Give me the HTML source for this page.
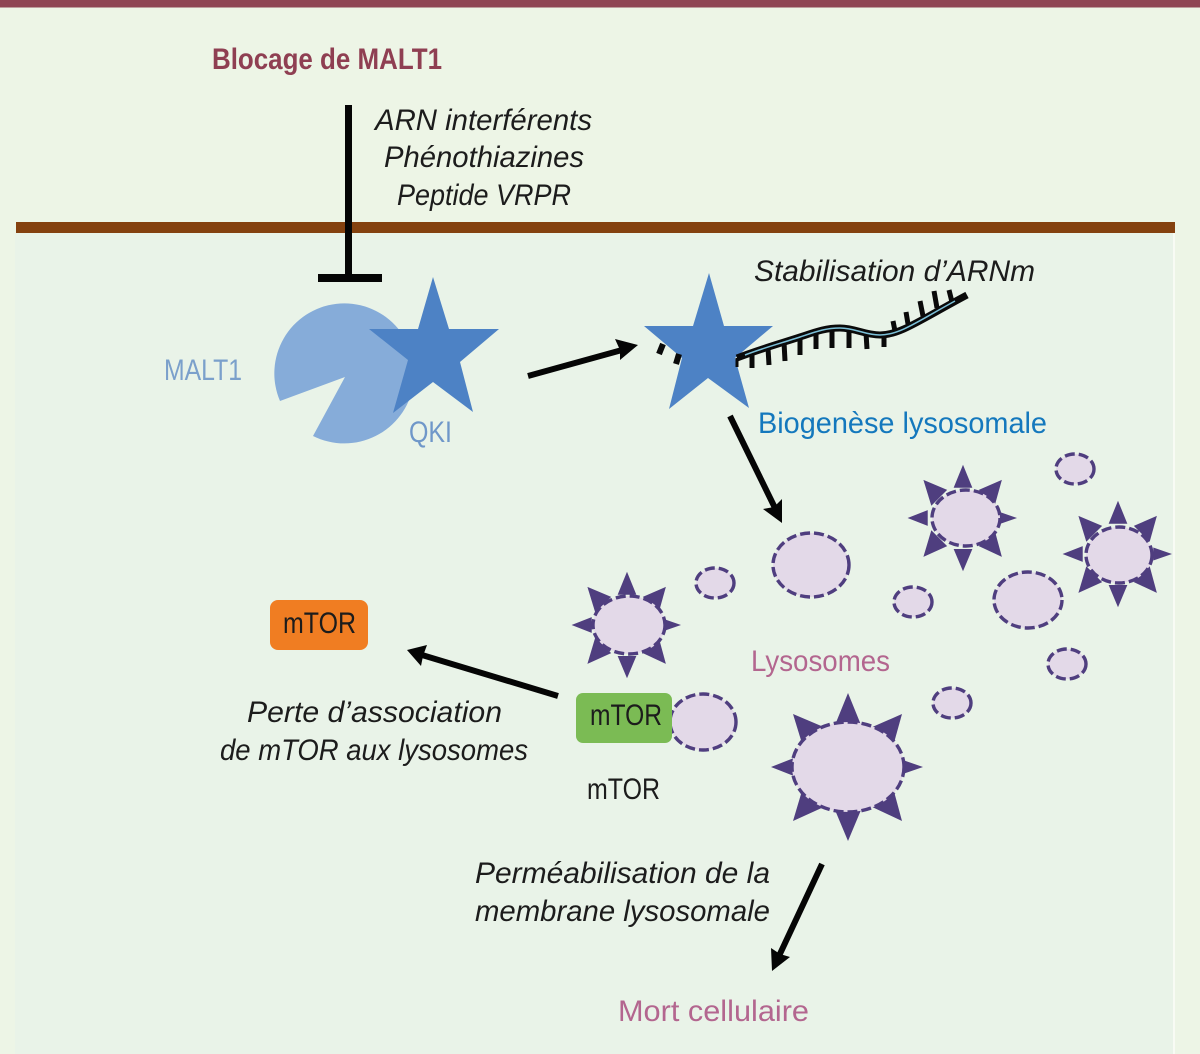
<!DOCTYPE html>
<html lang="fr">
<head>
<meta charset="utf-8">
<title>Blocage de MALT1</title>
<style>
html,body{margin:0;padding:0;background:#edf5e6;}
svg{display:block;}
text{font-family:"Liberation Sans",sans-serif;font-size:30px;fill:#1c1c1c;}
.i{font-style:italic;}
.s{fill:#4f3e7f;}
.d{fill:#e3d9e8;stroke:#4f3e7f;stroke-width:3.4;stroke-dasharray:10 4;}
.p{fill:#b3668f;}
</style>
</head>
<body>
<svg width="1200" height="1054" viewBox="0 0 1200 1054" xmlns="http://www.w3.org/2000/svg">
<defs>
<g id="spk">
<polygon class="s" points="0,-74 -13,-42 13,-42"/>
<polygon class="s" points="0,74 -13,43 13,43"/>
<polygon class="s" points="-77,0 -49,-11 -49,11"/>
<polygon class="s" points="75,0 49,-9 49,9"/>
<polygon class="s" points="-55,-53 -22,-39 -44,-17"/>
<polygon class="s" points="54,-53 22,-39 44,-17"/>
<polygon class="s" points="-55,54 -22,39 -44,17"/>
<polygon class="s" points="54,54 22,39 44,17"/>
</g>
</defs>

<rect width="1200" height="1054" fill="#edf5e6"/>
<rect x="15" y="233" width="1159" height="821" fill="#e9f3e8"/>
<rect x="1173" y="233" width="2" height="821" fill="#f8fbf4"/>
<rect x="0" y="0" width="1200" height="7.5" fill="#8f4554"/>
<rect x="16" y="222" width="1159" height="11" fill="#84410f"/>

<!-- inhibition -->
<rect x="345" y="105" width="7" height="173" fill="#050505"/>
<rect x="318" y="274" width="64" height="8" fill="#050505"/>

<!-- MALT1 + QKI -->
<path d="M345,377 L280,401 A70,70 0 1 1 313,436 Z" fill="#86acd9"/>
<polygon points="433,277 449,329 499,329 460,362 473,412 433,382 393,413 408,360 369,329 418,329" fill="#4d82c5"/>

<!-- star + RNA -->
<polygon points="709,273 724,326 773,326 735,358 749,408 708,378 669,409 682,358 644,326 693,326" fill="#4d82c5"/>
<g stroke="#0a0a0a" fill="none">
<path d="M663,344 L659,354 M679,354 L676,364" stroke-width="6"/>
<path d="M737,358 C760,349 785,342 800,337 C815,332 825,328 840,328 C855,328 865,335 880,335 C900,335 920,320 967,295" stroke-width="7"/>
<path d="M752,353V368 M768,348L769,365 M784,342L785,361 M800,337V355 M816,332V349 M832,329V348 M849,329V348 M866,333L867,349 M884,335V347 M895,331L893,321 M908,324L906,312 M923,316L920,301 M937,308L934,291 M952,302L949,290" stroke-width="5"/>
<path d="M737,358V367" stroke-width="3"/>
</g>
<path d="M745,355 C760,349 785,342 800,337 C815,332 825,328 840,328 C855,328 865,335 880,335 C900,335 920,320 955,301" stroke="#7cc0d8" stroke-width="1.5" fill="none"/>

<!-- arrows -->
<g fill="#050505" stroke="#050505">
<line x1="528" y1="376" x2="622" y2="350" stroke-width="6"/>
<polygon stroke="none" points="638,345 615,339 620,350 620,360"/>
<line x1="730" y1="416" x2="775" y2="508" stroke-width="6"/>
<polygon stroke="none" points="782,523 782,499 774,507 763,509"/>
<line x1="558" y1="696" x2="422" y2="655" stroke-width="6"/>
<polygon stroke="none" points="407,650 427,645 423,656 421,666"/>
<line x1="822" y1="864" x2="779" y2="956" stroke-width="6"/>
<polygon stroke="none" points="772,971 771,948 780,954 790,957"/>
</g>

<!-- lysosomes -->
<ellipse class="d" cx="811" cy="565" rx="38" ry="32"/>
<ellipse class="d" cx="715" cy="583" rx="19" ry="15"/>
<ellipse class="d" cx="913" cy="602" rx="19" ry="15"/>
<ellipse class="d" cx="1075" cy="469" rx="19" ry="15"/>
<ellipse class="d" cx="1028" cy="600" rx="34" ry="28"/>
<ellipse class="d" cx="1067" cy="664" rx="19" ry="15"/>
<ellipse class="d" cx="952" cy="703" rx="19" ry="15"/>
<ellipse class="d" cx="703" cy="722" rx="33" ry="28"/>

<use href="#spk" transform="translate(848,767)"/>
<ellipse class="d" cx="848" cy="767" rx="56" ry="45"/>
<use href="#spk" transform="translate(627,625) scale(.72)"/>
<ellipse class="d" cx="629" cy="625" rx="36" ry="29"/>
<use href="#spk" transform="translate(963,518) scale(.72)"/>
<ellipse class="d" cx="966" cy="518" rx="34" ry="28"/>
<use href="#spk" transform="translate(1118,554) scale(.72)"/>
<ellipse class="d" cx="1119" cy="555" rx="33" ry="28"/>

<!-- mTOR boxes -->
<rect x="270" y="600" width="98" height="50" rx="8" fill="#f07d22"/>
<rect x="576" y="693" width="96" height="50" rx="7" fill="#7bbb54"/>

<!-- text -->
<text x="212" y="69" font-weight="700" style="fill:#8f3f52" textLength="230" lengthAdjust="spacingAndGlyphs">Blocage de MALT1</text>
<text class="i" x="375" y="130" textLength="217" lengthAdjust="spacingAndGlyphs">ARN interférents</text>
<text class="i" x="384" y="167" textLength="200" lengthAdjust="spacingAndGlyphs">Phénothiazines</text>
<text class="i" x="397" y="205" textLength="174" lengthAdjust="spacingAndGlyphs">Peptide VRPR</text>
<text class="i" x="754" y="281" textLength="281" lengthAdjust="spacingAndGlyphs">Stabilisation d’ARNm</text>
<text x="164" y="380" style="fill:#7ba0cb" textLength="78" lengthAdjust="spacingAndGlyphs">MALT1</text>
<text x="409" y="442" style="fill:#6f97c9" textLength="43" lengthAdjust="spacingAndGlyphs">QKI</text>
<text x="758" y="433" style="fill:#1478bd" textLength="289" lengthAdjust="spacingAndGlyphs">Biogenèse lysosomale</text>
<text x="283" y="633" textLength="73" lengthAdjust="spacingAndGlyphs">mTOR</text>
<text x="590" y="725" textLength="72" lengthAdjust="spacingAndGlyphs">mTOR</text>
<text x="587" y="799" textLength="73" lengthAdjust="spacingAndGlyphs">mTOR</text>
<text class="p" x="751" y="671" textLength="139" lengthAdjust="spacingAndGlyphs">Lysosomes</text>
<text class="i" x="247" y="722" textLength="255" lengthAdjust="spacingAndGlyphs">Perte d’association</text>
<text class="i" x="220" y="760" textLength="308" lengthAdjust="spacingAndGlyphs">de mTOR aux lysosomes</text>
<text class="i" x="475" y="883" textLength="295" lengthAdjust="spacingAndGlyphs">Perméabilisation de la</text>
<text class="i" x="475" y="921" textLength="295" lengthAdjust="spacingAndGlyphs">membrane lysosomale</text>
<text class="p" x="618" y="1021" textLength="191" lengthAdjust="spacingAndGlyphs">Mort cellulaire</text>
</svg>
</body>
</html>
